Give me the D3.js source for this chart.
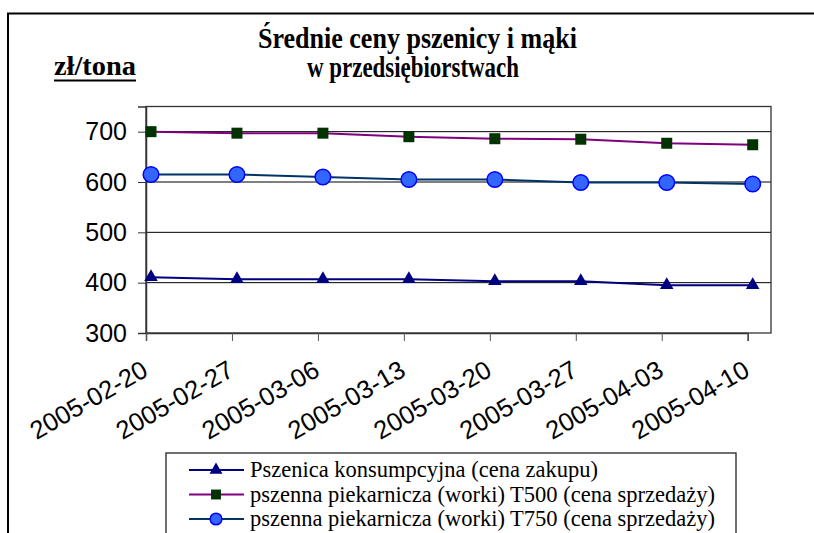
<!DOCTYPE html>
<html><head><meta charset="utf-8">
<script src="https://cdn.jsdelivr.net/npm/d3@7/dist/d3.min.js"></script>
<style>body{margin:0;background:#fff}svg{display:block}</style>
</head><body>
<script>
const dates = ["2005-02-20","2005-02-27","2005-03-06","2005-03-13","2005-03-20","2005-03-27","2005-04-03","2005-04-10"];
const pszenicaKons = [411, 407, 407, 407, 403, 403, 395, 395];
const t500 = [700, 697, 697, 690, 686, 685, 677, 674];
const t750 = [615, 615, 610, 605, 605, 599, 599, 596];
const yTicks = [300, 400, 500, 600, 700];
const seriesNames = ["Pszenica konsumpcyjna (cena zakupu)", "pszenna piekarnicza (worki) T500 (cena sprzedaży)", "pszenna piekarnicza (worki) T750 (cena sprzedaży)"];

const W = 814, H = 533;
const svg = d3.select("body").append("svg").attr("width", W).attr("height", H);
svg.append("rect").attr("width", W).attr("height", H).attr("fill", "#fff");
// outer frame
svg.append("rect").attr("x", 8).attr("y", 13.5).attr("width", 830).attr("height", 540)
  .attr("fill", "none").attr("stroke", "#000").attr("stroke-width", 2);

const plot = {l: 146, t: 106.5, r: 771, b: 333};
const x = d3.scalePoint().domain(dates).range([146, 747.7]);
const mOff = 5;
const y = d3.scaleLinear().domain([300, 750]).range([plot.b, plot.t]);

// gridlines
svg.append("g").selectAll("line").data(yTicks.filter(v => v > 300)).join("line")
  .attr("x1", plot.l).attr("x2", plot.r).attr("y1", d => y(d)).attr("y2", d => y(d))
  .attr("stroke", "#000").attr("stroke-width", 1);
// plot border
svg.append("rect").attr("x", plot.l).attr("y", plot.t).attr("width", plot.r - plot.l).attr("height", plot.b - plot.t)
  .attr("fill", "none").attr("stroke", "#333").attr("stroke-width", 1.3);

// y axis
const ya = svg.append("g").attr("transform", `translate(${plot.l},0)`)
  .call(d3.axisLeft(y).tickValues(yTicks).tickSize(8).tickPadding(11).tickFormat(d3.format("d")));
ya.select(".domain").attr("stroke", "#333").attr("stroke-width", 1.5);
ya.selectAll(".tick line").attr("stroke", "#333");
ya.selectAll("text").attr("font-family", "Arial, 'Liberation Sans', sans-serif").attr("font-size", 25).attr("fill", "#000");

// x axis
const xa = svg.append("g").attr("transform", `translate(0,${plot.b})`)
  .call(d3.axisBottom(x).tickSize(8).tickPadding(0));
xa.select(".domain").attr("stroke", "#333").attr("stroke-width", 1.5);
xa.selectAll(".tick line").attr("stroke", "#555");
xa.selectAll("text")
  .attr("font-family", "Arial, 'Liberation Sans', sans-serif").attr("font-size", 25.5).attr("fill", "#000")
  .attr("text-anchor", "end").attr("dy", 0)
  .attr("transform", "translate(-1,35) rotate(-30)");

// series
const series = [
  {vals: pszenicaKons, line: "#000080", marker: "tri"},
  {vals: t500, line: "#800080", marker: "sq"},
  {vals: t750, line: "#003366", marker: "circ"}
];
const lineGen = d3.line().x((d, i) => x(dates[i]) + mOff).y(d => y(d));
function drawMarker(g, type, cx, cy, s) {
  if (type === "tri") {
    g.append("path").attr("d", d3.symbol(d3.symbolTriangle, 80 * s)())
      .attr("transform", `translate(${cx},${cy})`).attr("fill", "#000080");
  } else if (type === "sq") {
    const a = 11 * s;
    g.append("rect").attr("x", cx - a / 2).attr("y", cy - a / 2).attr("width", a).attr("height", a)
      .attr("fill", "#003300");
  } else {
    g.append("circle").attr("cx", cx).attr("cy", cy).attr("r", 7.8 * s)
      .attr("fill", "#3366FF").attr("stroke", "#0000FF").attr("stroke-width", 1.5);
  }
}
series.forEach(s => {
  svg.append("path").datum(s.vals).attr("d", lineGen).attr("fill", "none")
    .attr("stroke", s.line).attr("stroke-width", 2);
});
series.forEach(s => {
  const g = svg.append("g");
  s.vals.forEach((v, i) => drawMarker(g, s.marker, x(dates[i]) + mOff, y(v), 1));
});

// title
const title = svg.append("g").attr("font-family", "'Liberation Serif', 'Times New Roman', serif").attr("font-weight", "bold").attr("fill", "#000");
title.append("text").attr("x", 417.5).attr("y", 48).attr("text-anchor", "middle").attr("font-size", 29)
  .attr("textLength", 319).attr("lengthAdjust", "spacingAndGlyphs").text("Średnie ceny pszenicy i mąki");
title.append("text").attr("x", 413).attr("y", 77).attr("text-anchor", "middle").attr("font-size", 29)
  .attr("textLength", 212).attr("lengthAdjust", "spacingAndGlyphs").text("w przedsiębiorstwach");
// unit
title.append("text").attr("x", 54).attr("y", 75).attr("font-size", 27)
  .attr("textLength", 82).attr("lengthAdjust", "spacingAndGlyphs").text("zł/tona");
svg.append("line").attr("x1", 54).attr("x2", 136).attr("y1", 80.5).attr("y2", 80.5).attr("stroke", "#000").attr("stroke-width", 2);

// legend
const lg = svg.append("g");
lg.append("rect").attr("x", 166).attr("y", 453).attr("width", 570).attr("height", 100)
  .attr("fill", "#fff").attr("stroke", "#222").attr("stroke-width", 1.3);
const rowY = [470, 494.5, 519];
series.forEach((s, i) => {
  lg.append("line").attr("x1", 189).attr("x2", 244).attr("y1", rowY[i]).attr("y2", rowY[i])
    .attr("stroke", s.line).attr("stroke-width", 2);
  drawMarker(lg, s.marker, 216, rowY[i], s.marker === "circ" ? 0.75 : 0.9);
  lg.append("text").attr("x", 250).attr("y", rowY[i] + 7)
    .attr("font-family", "'Liberation Serif', 'Times New Roman', serif").attr("font-size", 22.5).attr("fill", "#000")
    .text(seriesNames[i]);
});
</script>
</body></html>
